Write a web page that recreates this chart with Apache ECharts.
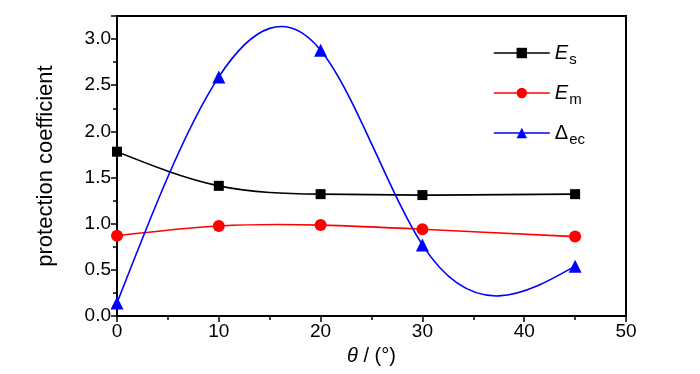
<!DOCTYPE html>
<html><head><meta charset="utf-8">
<script src="https://cdn.jsdelivr.net/npm/echarts@6/dist/echarts.min.js"></script>
<style>html,body{margin:0;padding:0;background:#fff}#c{width:700px;height:374px}</style>
</head><body><div id="c"></div>
<script>
const thetaValues = [0, 10, 20, 30, 45];
const esValues = [1.78, 1.41, 1.32, 1.31, 1.32];
const emValues = [0.87, 0.975, 0.985, 0.94, 0.86];
const decValues = [0.14, 2.59, 2.88, 0.77, 0.54];
const seriesNames = ['Es', 'Em', 'Dec'];
const seriesColors = ['#000000', '#ff0000', '#0000ff'];
const legendLabels = {Es: '{i|E}{sub|s}', Em: '{i|E}{sub|m}', Dec: '{n|Δ}{sub|ec}'};

const font = 'Liberation Sans, Arial, sans-serif';
const chart = echarts.init(document.getElementById('c'), null, {renderer: 'canvas'});
const pair = arr => thetaValues.map((t, i) => [t, arr[i]]);

// natural cubic spline derivatives at the knots (for drawing the smooth connecting curve)
function splineSlopes(xs, ys) {
  const n = xs.length;
  const h = [];
  for (let i = 0; i < n - 1; i++) h.push(xs[i + 1] - xs[i]);
  const a = new Array(n).fill(0), b = new Array(n).fill(1), c = new Array(n).fill(0), r = new Array(n).fill(0);
  for (let i = 1; i < n - 1; i++) {
    a[i] = h[i - 1]; b[i] = 2 * (h[i - 1] + h[i]); c[i] = h[i];
    r[i] = 6 * ((ys[i + 1] - ys[i]) / h[i] - (ys[i] - ys[i - 1]) / h[i - 1]);
  }
  const cp = new Array(n).fill(0), rp = new Array(n).fill(0);
  cp[0] = c[0] / b[0]; rp[0] = r[0] / b[0];
  for (let i = 1; i < n; i++) {
    const m = b[i] - a[i] * cp[i - 1];
    cp[i] = c[i] / m; rp[i] = (r[i] - a[i] * rp[i - 1]) / m;
  }
  const M = new Array(n).fill(0);
  M[n - 1] = rp[n - 1];
  for (let i = n - 2; i >= 0; i--) M[i] = rp[i] - cp[i] * M[i + 1];
  const d = [];
  for (let i = 0; i < n - 1; i++) d.push((ys[i + 1] - ys[i]) / h[i] - h[i] * (2 * M[i] + M[i + 1]) / 6);
  const k = n - 1;
  d.push((ys[k] - ys[k - 1]) / h[k - 1] + h[k - 1] * (M[k - 1] + 2 * M[k]) / 6);
  return d;
}

function curveSeries(values, color) {
  const slopes = splineSlopes(thetaValues, values);
  return {
    type: 'custom', silent: true, z: 1, clip: true,
    data: pair(values),
    renderItem: (params, api) => {
      if (params.dataIndex !== 0) return null;
      const children = [];
      for (let i = 0; i < thetaValues.length - 1; i++) {
        const x0 = thetaValues[i], x1 = thetaValues[i + 1], h = x1 - x0;
        const p0 = api.coord([x0, values[i]]);
        const p1 = api.coord([x1, values[i + 1]]);
        const c1 = api.coord([x0 + h / 3, values[i] + slopes[i] * h / 3]);
        const c2 = api.coord([x1 - h / 3, values[i + 1] - slopes[i + 1] * h / 3]);
        children.push({
          type: 'bezierCurve',
          shape: {x1: p0[0], y1: p0[1], x2: p1[0], y2: p1[1], cpx1: c1[0], cpy1: c1[1], cpx2: c2[0], cpy2: c2[1]},
          style: {stroke: color, lineWidth: 1.6, fill: null}
        });
      }
      return {type: 'group', children};
    }
  };
}

const symbols = ['rect', 'circle', 'triangle'];
const symbolSizes = [10, 12, 13];
const valueSets = [esValues, emValues, decValues];

chart.setOption({
  animation: false,
  backgroundColor: '#fff',
  grid: {left: 117, right: 74, top: 16, bottom: 58, show: true, borderColor: '#000', borderWidth: 2, backgroundColor: 'transparent'},
  legend: {
    orient: 'vertical', left: 488, top: 38, itemWidth: 56, itemHeight: 13, itemGap: 16,
    data: seriesNames.map((n, i) => ({name: n, lineStyle: {opacity: 1, width: 1.6, color: seriesColors[i]}})),
    formatter: n => legendLabels[n],
    textStyle: {
      fontFamily: font, fontSize: 20, color: '#000',
      rich: {
        i: {fontStyle: 'italic', fontSize: 20, fontFamily: font, color: '#000'},
        n: {fontSize: 20, fontFamily: font, color: '#000'},
        sub: {fontSize: 15, fontFamily: font, color: '#000', padding: [13, 0, 0, 1]}
      }
    }
  },
  xAxis: {
    type: 'value', min: 0, max: 50, interval: 10,
    name: '{i|θ} / (°)', nameLocation: 'middle', nameGap: 30,
    nameTextStyle: {fontFamily: font, fontSize: 20, color: '#000', rich: {i: {fontStyle: 'italic', fontSize: 20, fontFamily: font}}},
    axisLine: {show: true, lineStyle: {color: '#000', width: 2}},
    axisTick: {show: true, inside: false, length: 6, lineStyle: {color: '#000', width: 1.5}},
    minorTick: {show: true, splitNumber: 2, length: 4, lineStyle: {color: '#000', width: 1.5}},
    axisLabel: {fontFamily: font, fontSize: 19, color: '#000', margin: 6},
    splitLine: {show: false}
  },
  yAxis: {
    type: 'value', min: 0, max: 3.25, interval: 0.5,
    name: 'protection coefficient', nameLocation: 'middle', nameGap: 60, nameRotate: 90,
    nameTextStyle: {fontFamily: font, fontSize: 22, color: '#000'},
    axisLine: {show: true, lineStyle: {color: '#000', width: 2}},
    axisTick: {show: true, inside: false, length: 6, lineStyle: {color: '#000', width: 1.5}},
    minorTick: {show: true, splitNumber: 2, length: 4, lineStyle: {color: '#000', width: 1.5}},
    axisLabel: {fontFamily: font, fontSize: 19, color: '#000', margin: 6, showMaxLabel: false, formatter: v => v.toFixed(1)},
    splitLine: {show: false}
  },
  series: [
    ...seriesNames.map((n, i) => curveSeries(valueSets[i], seriesColors[i])),
    ...seriesNames.map((n, i) => ({
      name: n, type: 'line', data: pair(valueSets[i]), z: 3,
      symbol: symbols[i], symbolSize: symbolSizes[i], showSymbol: true,
      itemStyle: {color: seriesColors[i]},
      lineStyle: {color: seriesColors[i], width: 1.6, opacity: 0}
    }))
  ]
});
</script></body></html>
